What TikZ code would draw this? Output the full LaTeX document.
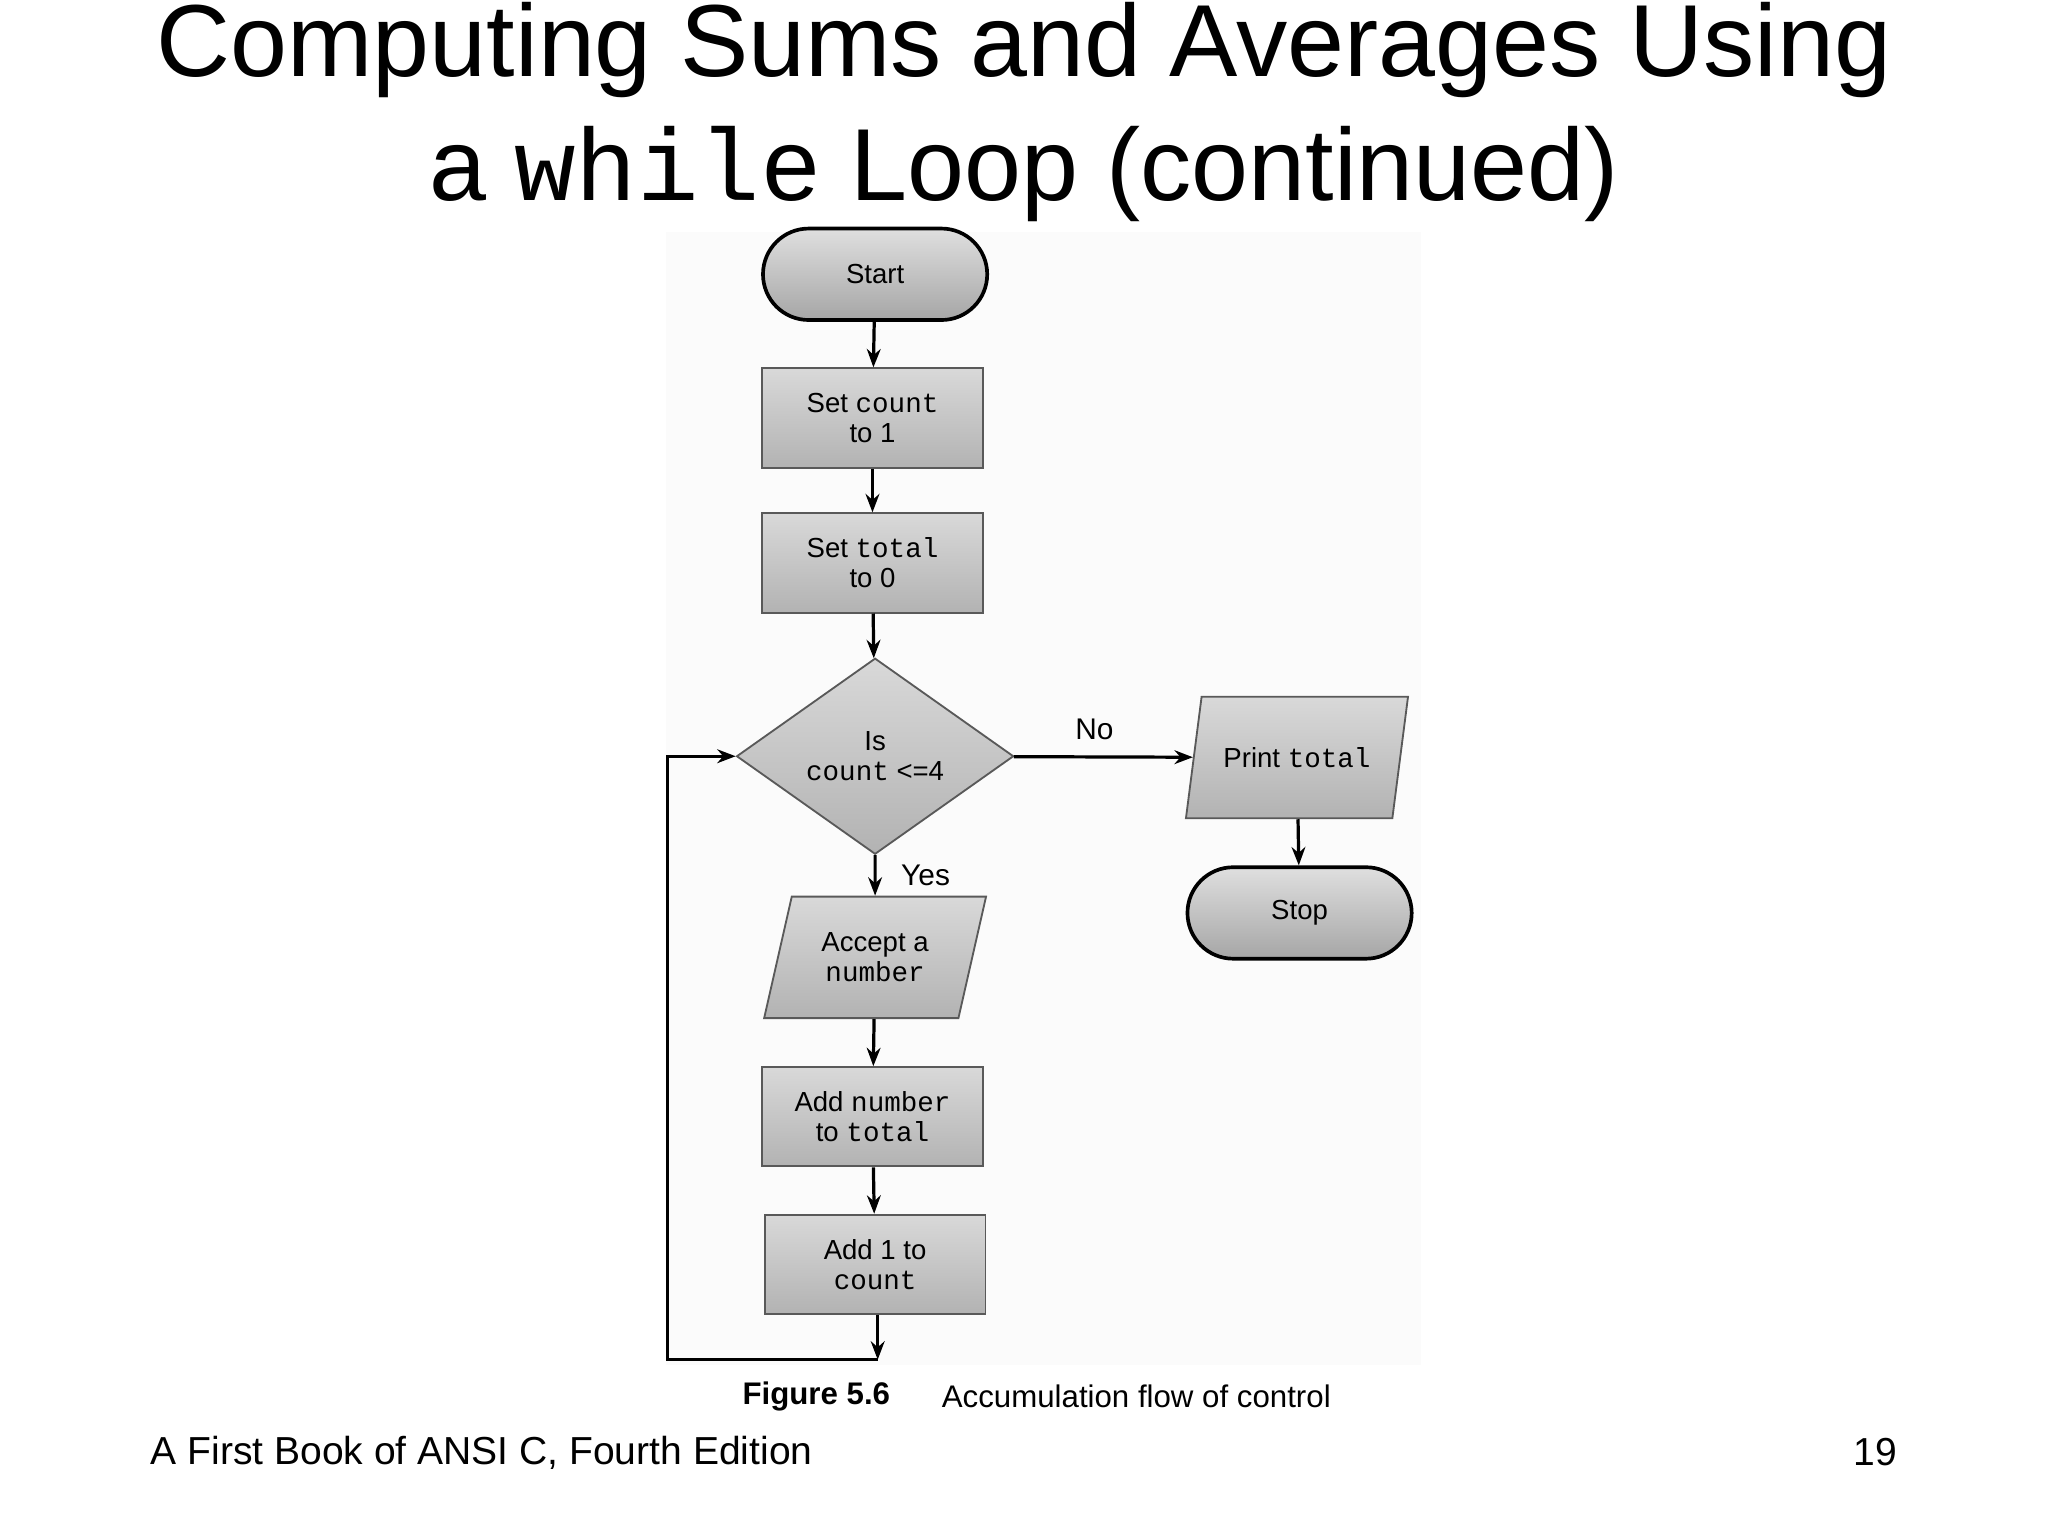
\documentclass[tikz,border=0pt]{standalone}
\usepackage{fontspec}
\setmainfont{Liberation Sans}
\setmonofont{Liberation Mono}
\usetikzlibrary{shapes.geometric,shapes.misc,arrows.meta}
\begin{document}
\begin{tikzpicture}[x=0.01cm,y=-0.01cm,
  box/.style={draw=gray!70!black,top color=gray!30,bottom color=gray!60,minimum width=1.69cm,minimum height=0.76cm,align=center,font=\fontsize{6}{6.5}\selectfont,inner sep=1pt},
  term/.style={draw=black,line width=0.8pt,rounded rectangle,top color=gray!25,bottom color=gray!70,minimum width=1.95cm,minimum height=0.7cm,font=\fontsize{6}{6.5}\selectfont},
  io/.style={draw=gray!70!black,trapezium,trapezium left angle=74,trapezium right angle=106,top color=gray!30,bottom color=gray!60,minimum width=1.7cm,minimum height=0.93cm,align=center,font=\fontsize{6}{6.5}\selectfont,trapezium stretches=true},
  dec/.style={draw=gray!70!black,diamond,aspect=1.41,top color=gray!30,bottom color=gray!60,minimum width=2.12cm,minimum height=1.5cm,align=center,font=\fontsize{6}{6.5}\selectfont,inner sep=0pt},
  arr/.style={-{Stealth[length=4pt]},line width=0.7pt},
  lbl/.style={font=\fontsize{6.5}{7}\selectfont}]
\useasboundingbox (0,0) rectangle (1568,1176);
\fill[white] (0,0) rectangle (1568,1176);
\fill[gray!3] (510,178) rectangle (1088,1045);
\node[font=\fontsize{22.3}{26}\selectfont] (t1) at (784,38) {Computing Sums and Averages Using};
\node[font=\fontsize{22.3}{26}\selectfont] (t2) at (784,133) {a \texttt{while} Loop (continued)};
\node[term] (start) at (670,210) {Start};
\node[box] (s1) at (668,320) {Set \texttt{count}\\to 1};
\node[box] (s2) at (668,431) {Set \texttt{total}\\to 0};
\node[dec] (d) at (670,579) {Is\\\texttt{count} <=4};
\node[io] (pr) at (993,580) {Print \texttt{total}};
\node[term] (stop) at (995,699) {Stop};
\node[io] (acc) at (670,733) {Accept a\\\texttt{number}};
\node[box] (a1) at (668,855) {Add \texttt{number}\\to \texttt{total}};
\node[box] (a2) at (670,968) {Add 1 to\\\texttt{count}};
\coordinate (lb) at (672,1041);
\coordinate (ll) at (511,1041);
\draw[arr] (start) -- (s1);
\draw[arr] (s1) -- (s2);
\draw[arr] (s2) -- (d);
\draw[arr] (d) -- node[lbl,above,pos=0.45]{No} (pr);
\draw[arr] (pr) -- (stop);
\draw[arr] (d) -- node[lbl,right,pos=0.5,xshift=2pt]{Yes} (acc);
\draw[arr] (acc) -- (a1);
\draw[arr] (a1) -- (a2);
\draw[arr] (a2.south -| lb) -- (lb);
\draw[arr] (lb) -- (ll) |- (d.west);
\node[font=\fontsize{6.8}{8}\selectfont\bfseries] (f1) at (625,1069) {Figure 5.6};
\node[font=\fontsize{6.8}{8}\selectfont] (f2) at (870,1069) {Accumulation flow of control};
\node[anchor=west,font=\fontsize{8.5}{10}\selectfont] (ft) at (103,1112) {A First Book of ANSI C, Fourth Edition};
\node[anchor=east,font=\fontsize{8.5}{10}\selectfont] (pg) at (1465,1112) {19};
\end{tikzpicture}
\end{document}
